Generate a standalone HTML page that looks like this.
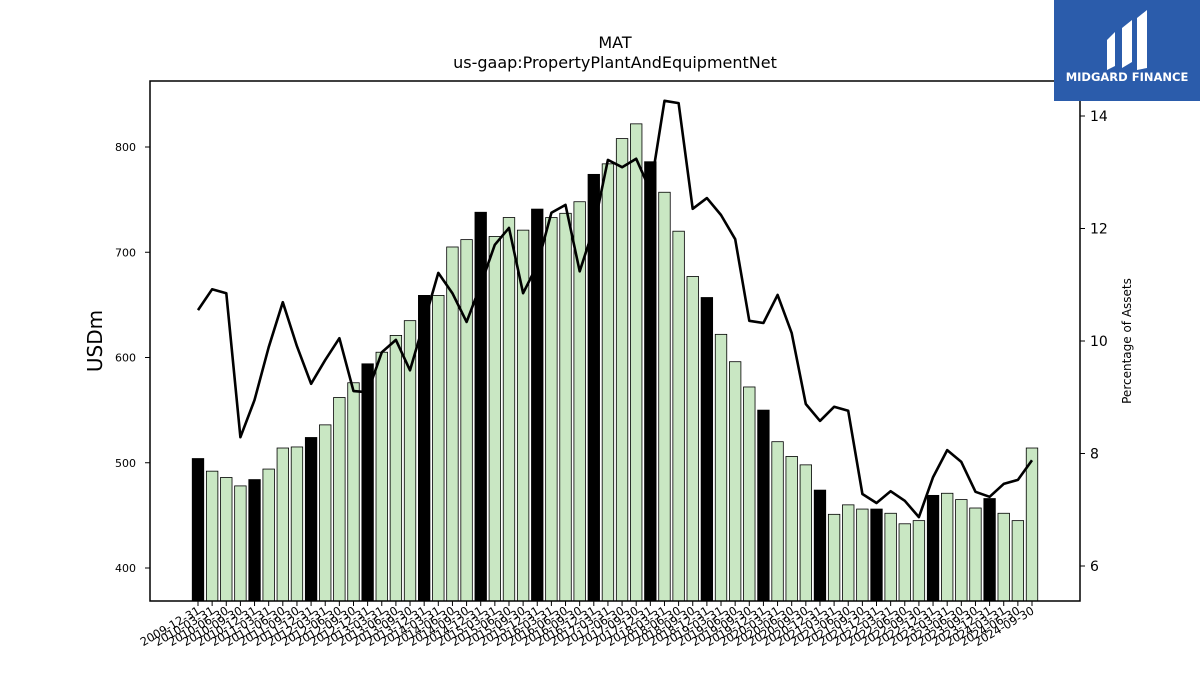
<!DOCTYPE html>
<html><head><meta charset="utf-8"><style>
body{margin:0;background:#fff;}
svg text{font-family:"DejaVu Sans","Liberation Sans",sans-serif;}
</style></head><body>
<svg id="c" width="1200" height="675" xmlns="http://www.w3.org/2000/svg">
<rect x="0" y="0" width="1200" height="675" fill="#fff"/>
<text x="615" y="48" text-anchor="middle" font-size="16">MAT</text>
<text x="615" y="68" text-anchor="middle" font-size="16">us-gaap:PropertyPlantAndEquipmentNet</text>
<g id="bars"></g>
<g id="line"></g>
<g id="axes"></g>
<rect x="150" y="81" width="930" height="520" fill="none" stroke="#000" stroke-width="1.5"/>
<text transform="translate(102,341) rotate(-90)" text-anchor="middle" font-size="20">USDm</text>
<text transform="translate(1131,341) rotate(-90)" text-anchor="middle" font-size="12">Percentage of Assets</text>
<g>
<rect x="1054" y="0" width="146" height="101" fill="#2b5cab"/>
<path d="M1107 40 L1115 32 L1115 66 L1107 70 Z M1122 28 L1132 20 L1132 62 L1122 68 Z M1137 18 L1147 10 L1147 68 L1137 70 Z" fill="#fff"/>
<text x="1127" y="81" text-anchor="middle" font-size="11.5" font-weight="bold" fill="#fff" font-family="Liberation Sans, sans-serif">MIDGARD FINANCE</text>
</g>
</svg>
<script>
const usd = [504,492,486,478,484,494,514,515,524,536,562,576,594,605,621,635,659,659,705,712,738,715,733,721,741,733,737,748,774,784,808,822,786,757,720,677,657,622,596,572,550,520,506,498,474,451,460,456,456,452,442,445,469,471,465,457,466,452,445,514];
const pct = [10.55,10.92,10.85,8.29,8.95,9.89,10.69,9.91,9.24,9.66,10.05,9.11,9.09,9.80,10.02,9.48,10.34,11.21,10.85,10.34,11.0,11.71,12.01,10.85,11.35,12.28,12.42,11.24,12.01,13.22,13.09,13.24,12.68,14.27,14.23,12.35,12.54,12.24,11.81,10.36,10.32,10.82,10.14,8.88,8.58,8.83,8.76,7.28,7.12,7.33,7.16,6.87,7.58,8.06,7.85,7.32,7.23,7.46,7.53,7.88];
const leftTicks = [400,500,600,700,800];
const rightTicks = [6,8,10,12,14];
const dates = [];
for (let y=2009;y<=2024;y++) for (const q of ['03-31','06-30','09-30','12-31']) dates.push(y+'-'+q);
const labels = dates.slice(3, 3+usd.length);
const NS='http://www.w3.org/2000/svg';
const yL = v => 568 - (v-400)*1.0525;
const yR = v => 566 - (v-6)*56.25;
const xC = i => 198 + i*(1032-198)/(usd.length-1);
const bw = 11.5;
function mk(t, a, p){const e=document.createElementNS(NS,t);for(const k in a)e.setAttribute(k,a[k]);p.appendChild(e);return e;}
const bars=document.getElementById('bars'), line=document.getElementById('line'), axes=document.getElementById('axes');
usd.forEach((v,i)=>{
  const r=mk('rect',{x:xC(i)-bw/2,y:yL(v),width:bw,height:601-yL(v),fill:labels[i].endsWith('12-31')?'#000':'#c9e7c3',stroke:'#000','stroke-width':0.8},bars);
  
  
});
const pts=pct.map((v,i)=>xC(i).toFixed(1)+','+yR(v).toFixed(1)).join(' ');
const pl=mk('polyline',{points:pts,fill:'none',stroke:'#000','stroke-width':2.6,'stroke-linejoin':'round'},line);


leftTicks.forEach(t=>{
  mk('line',{x1:145,x2:150,y1:yL(t),y2:yL(t),stroke:'#000'},axes);
  const tx=mk('text',{x:136,y:yL(t)+4,'text-anchor':'end','font-size':11},axes);tx.textContent=t;
  
  
});
rightTicks.forEach(t=>{
  mk('line',{x1:1080,x2:1085,y1:yR(t),y2:yR(t),stroke:'#000'},axes);
  const tx=mk('text',{x:1090,y:yR(t)+5,'font-size':14},axes);tx.textContent=t;
  
  
});
labels.forEach((d,i)=>{
  const x=xC(i);
  mk('line',{x1:x,x2:x,y1:601,y2:606,stroke:'#000'},axes);
  const tx=mk('text',{transform:`translate(${x+3},${613}) rotate(-30)`,'text-anchor':'end','font-size':11.5},axes);tx.textContent=d;
  
  
});
</script>
</body></html>
